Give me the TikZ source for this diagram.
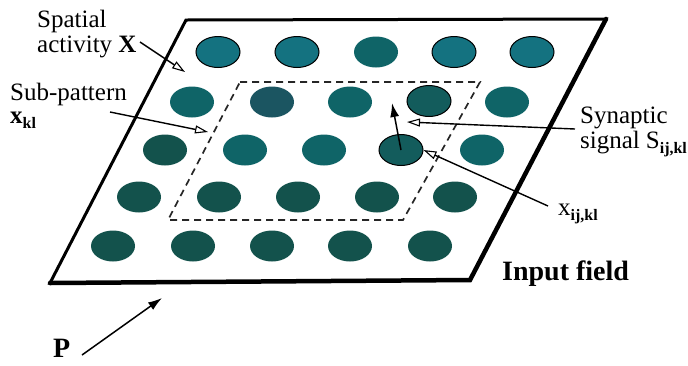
\documentclass[tikz,border=0pt]{standalone}
\usepackage{fontspec}
\setmainfont{Liberation Serif}
\usetikzlibrary{arrows.meta,shapes.geometric}
\definecolor{tealO}{HTML}{147280}
\definecolor{tealM}{HTML}{0F6467}
\definecolor{tealK}{HTML}{135C5C}
\definecolor{tealB}{HTML}{1B5561}
\definecolor{tealD}{HTML}{13524C}
\tikzset{
  dot/.style={ellipse, minimum width=44pt, minimum height=31pt, inner sep=0pt, fill=#1, draw=none},
  odot/.style={ellipse, minimum width=44pt, minimum height=31pt, inner sep=0pt, fill=#1, draw=black, line width=1pt},
  lbl/.style={anchor=base west, inner sep=0pt, font=\fontsize{25}{28}\selectfont},
  bigl/.style={anchor=base west, inner sep=0pt, font=\fontsize{28}{30}\selectfont\bfseries},
  openarr/.style={line width=1.4pt, -{Triangle[open, length=13pt, width=8pt, line width=1.1pt]}},
  fillarr/.style={line width=1.5pt, -{Latex[length=14pt, width=9pt]}},
}
\newcommand{\sbs}[1]{\raisebox{-5pt}{\fontsize{16}{16}\selectfont\bfseries #1}}
\begin{document}
\begin{tikzpicture}[x=1pt, y=-1pt]
\useasboundingbox (0,0) rectangle (688,365);
% input field
\coordinate (TL) at (186,20);
\coordinate (TR) at (606,19);
\coordinate (BR) at (470,280);
\coordinate (BL) at (50,283);
\draw[line width=3pt, line join=miter] (TL) -- (TR) -- (BR) -- (BL) -- cycle;
\draw[line width=4.5pt, line join=miter, line cap=round] (TR) -- (BR) -- (BL);
% dots row 1
\node[odot=tealO] (d11) at (218,52) {};
\node[odot=tealO] (d12) at (297,52) {};
\node[dot=tealM]  (d13) at (376,52) {};
\node[odot=tealO] (d14) at (454,52) {};
\node[odot=tealO] (d15) at (532,52) {};
% row 2
\node[dot=tealM]  (d21) at (192,102) {};
\node[dot=tealB]  (d22) at (272,102) {};
\node[dot=tealM]  (d23) at (350,102) {};
\node[odot=tealK] (d24) at (429,101) {};
\node[dot=tealM]  (d25) at (507,102) {};
% row 3
\node[dot=tealD]  (d31) at (165,150) {};
\node[dot=tealM]  (d32) at (245,150) {};
\node[dot=tealM]  (d33) at (324,150) {};
\node[odot=tealK] (d34) at (401,150) {};
\node[dot=tealM]  (d35) at (482,150) {};
% row 4
\node[dot=tealD]  (d41) at (139,197) {};
\node[dot=tealD]  (d42) at (219,197) {};
\node[dot=tealD]  (d43) at (298,197) {};
\node[dot=tealD]  (d44) at (377,197) {};
\node[dot=tealD]  (d45) at (455,197) {};
% row 5
\node[dot=tealD]  (d51) at (113,246) {};
\node[dot=tealD]  (d52) at (193,246) {};
\node[dot=tealD]  (d53) at (272,246) {};
\node[dot=tealD]  (d54) at (350,246) {};
\node[dot=tealD]  (d55) at (430,246) {};
% sub-pattern window
\coordinate (WTL) at (240,82);
\coordinate (WTR) at (480,82);
\coordinate (WBR) at (403,220);
\coordinate (WBL) at (168,220);
\draw[line width=1.7pt, dash pattern=on 7pt off 5pt, black!85] (WTL) -- (WTR) -- (WBR) -- (WBL) -- cycle;
% labels
\node[lbl] (sp1) at (37,27) {Spatial};
\node[lbl] (sp2) at (37,52) {activity \textbf{X}};
\node[lbl] (sub1) at (10,100) {Sub-pattern};
\node[lbl] (sub2) at (10,123) {\textbf{x}\sbs{kl}};
\node[lbl] (syn1) at (580,123) {Synaptic};
\node[lbl] (syn2) at (580,148) {signal\hspace{6pt}S\sbs{ij,kl}};
\node[lbl] (xij) at (558,215) {x\sbs{ij,kl}};
\node[bigl] (inp) at (502,280) {Input field};
\node[bigl] (P) at (53,357) {P};
% connector endpoints
\coordinate (a1s) at (140,42);
\coordinate (a1e) at (185,72);
\coordinate (a2s) at (110,112);
\coordinate (a2e) at (208,132);
\coordinate (a3s) at (575,129);
\coordinate (a3e) at (407,122);
\coordinate (a4s) at (548,206);
\coordinate (upe) at (392,103);
\coordinate (ps) at (82,355);
\coordinate (pe) at (162,298);
\draw[openarr] (a1s) -- (a1e);
\draw[openarr] (a2s) -- (a2e);
\draw[openarr] (a3s) -- (a3e);
\draw[openarr] (a4s) -- (d34.east);
\draw[fillarr] (d34.center) -- (upe);
\draw[fillarr] (ps) -- (pe);
\end{tikzpicture}
\end{document}
